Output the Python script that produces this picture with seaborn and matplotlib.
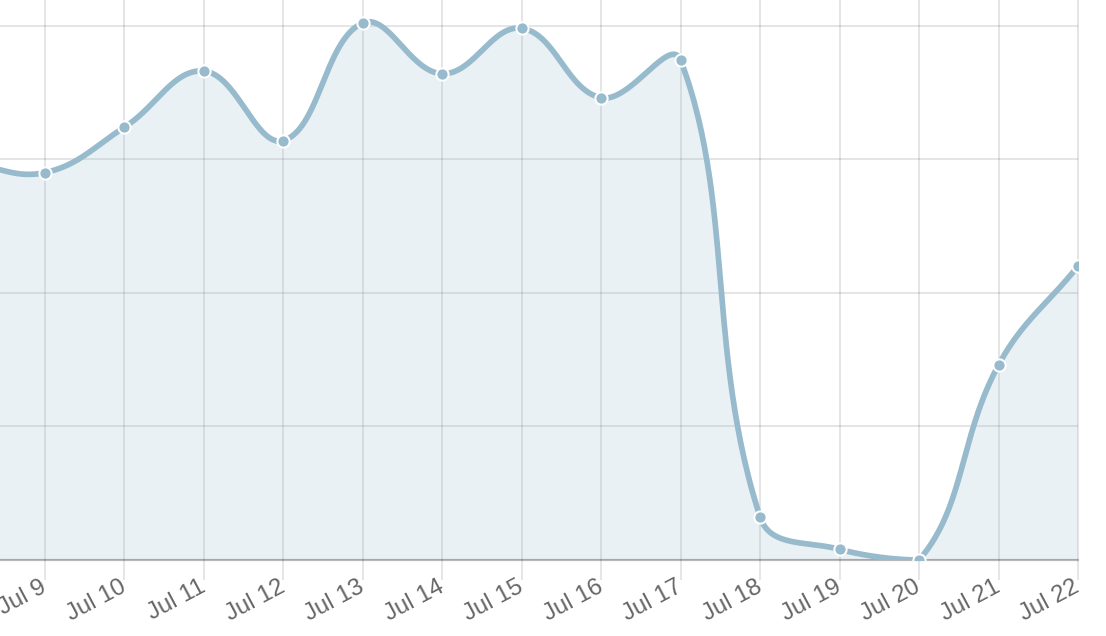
import numpy as np
import pandas as pd
import matplotlib
matplotlib.use("Agg")
import matplotlib.pyplot as plt
import seaborn as sns

# ---- data ----
dates = ["Jul 8", "Jul 9", "Jul 10", "Jul 11", "Jul 12", "Jul 13", "Jul 14",
         "Jul 15", "Jul 16", "Jul 17", "Jul 18", "Jul 19", "Jul 20", "Jul 21", "Jul 22"]
values = [149, 145, 162, 183, 157, 201, 182, 199, 173, 187, 16, 4, 0, 73, 110]
grid_values = [0, 50, 100, 150, 200]

LINE = "#97bbcd"
FILL = (151 / 255, 187 / 255, 205 / 255, 0.2)
TEXT = "#666666"

sns.set_style("white")
plt.rcParams["font.family"] = ["Liberation Sans", "DejaVu Sans"]

W, H = 1106, 636
fig = plt.figure(figsize=(W / 100, H / 100), dpi=100)
ax = fig.add_axes([0, 76 / H, 1078 / W, 560 / H])

x = np.arange(len(dates), dtype=float)
y = np.asarray(values, dtype=float)
XLIM = (1 - 45 / 79.44, len(dates) - 1)
YLIM = (0, 209.6)
ax.set_xlim(*XLIM)
ax.set_ylim(*YLIM)


def spline_curve(px, py, tension, bottom, right):
    """Chart.js-style distance-weighted bezier control points (pixel space)."""
    n = len(px)
    cp_prev = np.zeros((n, 2))
    cp_next = np.zeros((n, 2))
    for i in range(n):
        p = max(i - 1, 0)
        q = min(i + 1, n - 1)
        d01 = np.hypot(px[i] - px[p], py[i] - py[p])
        d12 = np.hypot(px[q] - px[i], py[q] - py[i])
        s = d01 + d12
        s01 = d01 / s if s else 0.0
        s12 = d12 / s if s else 0.0
        fa, fb = tension * s01, tension * s12
        dx, dy = px[q] - px[p], py[q] - py[p]
        cp_prev[i] = (px[i] - fa * dx, py[i] - fa * dy)
        cp_next[i] = (px[i] + fb * dx, py[i] + fb * dy)
    for cp in (cp_prev, cp_next):
        cp[:, 0] = np.minimum(cp[:, 0], right)
        cp[:, 1] = np.maximum(cp[:, 1], bottom)  # display y grows upwards
    return cp_prev, cp_next


disp = ax.transData.transform(np.column_stack([x, y]))
bottom = ax.transData.transform((0, 0))[1]
right = ax.transData.transform((len(dates) - 1, 0))[0]
cprev, cnext = spline_curve(disp[:, 0], disp[:, 1], 0.4, bottom, right)

t = np.linspace(0, 1, 60)[:, None]
segs = []
for i in range(len(x) - 1):
    P0, P1, P2, P3 = disp[i], cnext[i], cprev[i + 1], disp[i + 1]
    B = ((1 - t) ** 3) * P0 + 3 * ((1 - t) ** 2) * t * P1 + 3 * (1 - t) * t ** 2 * P2 + t ** 3 * P3
    segs.append(B if i == 0 else B[1:])
curve = ax.transData.inverted().transform(np.vstack(segs))
curve_df = pd.DataFrame({"x": curve[:, 0], "y": curve[:, 1]})
points_df = pd.DataFrame({"x": x, "y": y})

# area, line, points
ax.fill_between(curve_df["x"], curve_df["y"], 0, color=FILL, linewidth=0, zorder=2)
sns.lineplot(data=curve_df, x="x", y="y", sort=False, estimator=None, color=LINE,
             linewidth=4.1, ax=ax, zorder=3, solid_capstyle="round", solid_joinstyle="round")
sns.scatterplot(data=points_df, x="x", y="y", color=LINE, s=78, edgecolor="white",
                linewidth=1.44, ax=ax, zorder=4)

# grid / ticks
ax.set_axisbelow(True)
ax.set_xticks(x)
ax.set_yticks(grid_values)
ax.set_xlim(*XLIM)
ax.set_ylim(*YLIM)
ax.grid(True, color="black", alpha=0.1, linewidth=1.44)
for gl in ax.get_xgridlines():
    gl.set_clip_on(False)
ax.axhline(0, color="black", alpha=0.28, linewidth=1.6, zorder=1.5, clip_on=False)

for sp in ax.spines.values():
    sp.set_visible(False)
ax.set_xlabel("")
ax.set_ylabel("")
ax.set_xticklabels(dates, rotation=28, ha="right", va="center", rotation_mode="anchor",
                   color=TEXT, fontsize=17.3)
ax.tick_params(axis="x", bottom=True, length=14.4, width=1.44, color="#e6e6e6", pad=4)
ax.tick_params(axis="y", left=False, labelleft=False)

fig.savefig("out.png", dpi=100)
